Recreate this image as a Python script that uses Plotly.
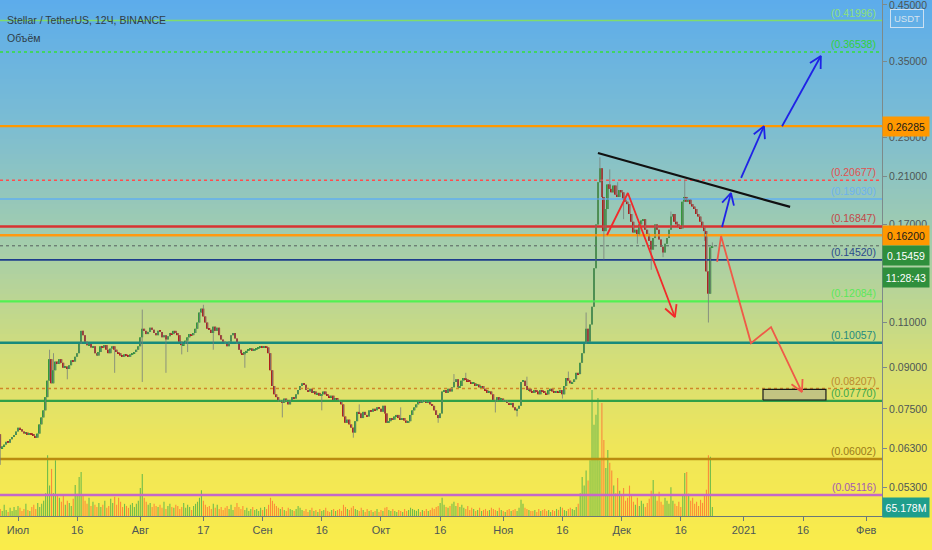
import math
import pandas as pd
import plotly.graph_objects as go

# ---------------- data ----------------
START = "2020-06-26 12:00"          # first 12h candle
FIRST_OPEN = 0.0670

CLOSE = [
    0.0630, 0.0635, 0.0640, 0.0648, 0.0645, 0.0655, 0.0662, 0.0668, 0.0678, 0.0690,
    0.0685, 0.0678, 0.0672, 0.0675, 0.0668, 0.0672, 0.0670, 0.0665, 0.0660, 0.0672,
    0.0700, 0.0722, 0.0745, 0.0790, 0.0850, 0.0935, 0.0840, 0.0890, 0.0925, 0.0915,
    0.0935, 0.0920, 0.0900, 0.0905, 0.0895, 0.0910, 0.0930, 0.0925, 0.0945, 0.0960,
    0.1000, 0.1060, 0.1040, 0.1010, 0.0995, 0.1000, 0.0985, 0.0990, 0.0960, 0.0950,
    0.0965, 0.0990, 0.0985, 0.0995, 0.0975, 0.0960, 0.0980, 0.0990, 0.0975, 0.0965,
    0.0960, 0.0950, 0.0945, 0.0955, 0.0950, 0.0945, 0.0955, 0.0960, 0.0965, 0.0975,
    0.0990, 0.1030, 0.1070, 0.1060, 0.1045, 0.1055, 0.1075, 0.1065, 0.1050, 0.1040,
    0.1060, 0.1055, 0.1030, 0.1040, 0.1020, 0.1035, 0.1050, 0.1045, 0.1060, 0.1050,
    0.1040, 0.1010, 0.0995, 0.1000, 0.1015, 0.1030, 0.1045, 0.1040, 0.1050, 0.1070,
    0.1100, 0.1150, 0.1170, 0.1130, 0.1100, 0.1070, 0.1065, 0.1050, 0.1080, 0.1060,
    0.1075, 0.1040, 0.1020, 0.1010, 0.1000, 0.0990, 0.1010, 0.1040, 0.1050, 0.1025,
    0.1000, 0.0975, 0.0960, 0.0955, 0.0965, 0.0970, 0.0975, 0.0980, 0.0970, 0.0975,
    0.0980, 0.0985, 0.0990, 0.0985, 0.0990, 0.0985, 0.0960, 0.0890, 0.0830, 0.0800,
    0.0790, 0.0775, 0.0780, 0.0770, 0.0785, 0.0775, 0.0765, 0.0780, 0.0790, 0.0785,
    0.0800, 0.0815, 0.0830, 0.0840, 0.0835, 0.0815, 0.0810, 0.0820, 0.0805, 0.0810,
    0.0800, 0.0805, 0.0795, 0.0800, 0.0810, 0.0800, 0.0795, 0.0790, 0.0795, 0.0780,
    0.0785, 0.0780, 0.0775, 0.0765, 0.0725, 0.0705, 0.0715, 0.0700, 0.0690, 0.0675,
    0.0710, 0.0740, 0.0735, 0.0720, 0.0740, 0.0730, 0.0725, 0.0745, 0.0740, 0.0750,
    0.0745, 0.0755, 0.0750, 0.0740, 0.0760, 0.0735, 0.0705, 0.0710, 0.0720, 0.0715,
    0.0725, 0.0730, 0.0720, 0.0715, 0.0720, 0.0712, 0.0705, 0.0710, 0.0730, 0.0745,
    0.0755, 0.0765, 0.0775, 0.0770, 0.0780, 0.0775, 0.0770, 0.0775, 0.0765, 0.0760,
    0.0745, 0.0730, 0.0720, 0.0735, 0.0810, 0.0815, 0.0805, 0.0820, 0.0810, 0.0825,
    0.0845, 0.0855, 0.0825, 0.0830, 0.0850, 0.0860, 0.0855, 0.0848, 0.0845, 0.0838,
    0.0840, 0.0830, 0.0835, 0.0825, 0.0830, 0.0820, 0.0815, 0.0805, 0.0810, 0.0800,
    0.0780, 0.0775, 0.0790, 0.0780, 0.0785, 0.0775, 0.0780, 0.0770, 0.0765, 0.0770,
    0.0755, 0.0745, 0.0750, 0.0760, 0.0845, 0.0850, 0.0830, 0.0815, 0.0820, 0.0810,
    0.0805, 0.0815, 0.0810, 0.0800, 0.0815, 0.0810, 0.0805, 0.0800, 0.0815, 0.0820,
    0.0810, 0.0805, 0.0812, 0.0808, 0.0815, 0.0800, 0.0830, 0.0860, 0.0850, 0.0840,
    0.0845, 0.0855, 0.0880, 0.0875, 0.0920, 0.0960, 0.1000, 0.1070, 0.1010, 0.1090,
    0.1180, 0.1400, 0.1700, 0.2050, 0.2180, 0.1920, 0.1650, 0.1820, 0.2030, 0.1990,
    0.1960, 0.2020, 0.1940, 0.1920, 0.1980, 0.1960, 0.1900, 0.1880, 0.1860, 0.1780,
    0.1720, 0.1640, 0.1660, 0.1620, 0.1700, 0.1730, 0.1740, 0.1660, 0.1630, 0.1580,
    0.1520, 0.1600, 0.1700, 0.1660, 0.1590, 0.1540, 0.1500, 0.1560, 0.1600, 0.1660,
    0.1760, 0.1780, 0.1720, 0.1700, 0.1680, 0.1670, 0.1880, 0.1920, 0.1880, 0.1900,
    0.1860, 0.1840, 0.1820, 0.1780, 0.1760, 0.1720, 0.1680, 0.1650, 0.1380, 0.1250,
    0.1535, 0.15459,
]

# (candle index, wick price)
HIGH_WICKS = [(25, 0.0975), (27, 0.0960), (72, 0.1165), (103, 0.1190), (182, 0.0765),
              (203, 0.0755), (230, 0.0875), (236, 0.0880), (267, 0.0865), (288, 0.0885),
              (297, 0.1150), (304, 0.2290), (309, 0.2170), (313, 0.2050), (340, 0.1800),
              (347, 0.2070), (361, 0.1570)]
LOW_WICKS = [(0, 0.0585), (34, 0.0855), (58, 0.0880), (72, 0.0845), (84, 0.0880),
             (92, 0.0955), (95, 0.0965), (108, 0.0975), (124, 0.0900), (143, 0.0722),
             (163, 0.0745), (179, 0.0660), (222, 0.0705), (251, 0.0738), (262, 0.0725),
             (285, 0.0785), (306, 0.1455), (316, 0.1740), (323, 0.1560), (330, 0.1390),
             (336, 0.1470), (357, 0.1580), (359, 0.1100)]

VOLUME_M = [
    51, 37, 81, 44, 29, 59, 37, 66, 44, 73,
    59, 37, 51, 88, 44, 37, 66, 81, 51, 95,
    66, 88, 110, 165, 440, 220, 341, 165, 403, 147,
    132, 103, 147, 81, 110, 95, 73, 125, 224, 161,
    282, 319, 147, 110, 88, 132, 73, 103, 81, 66,
    95, 66, 81, 110, 59, 73, 125, 95, 139, 81,
    132, 103, 66, 88, 73, 59, 81, 95, 66, 88,
    110, 202, 304, 132, 103, 81, 95, 66, 88, 73,
    66, 81, 59, 103, 51, 73, 88, 66, 59, 81,
    73, 51, 66, 95, 59, 81, 66, 44, 73, 88,
    103, 132, 187, 110, 81, 66, 73, 51, 88, 59,
    81, 51, 66, 44, 59, 73, 51, 81, 44, 66,
    95, 66, 51, 73, 44, 59, 37, 51, 66, 44,
    51, 37, 59, 44, 66, 51, 81, 132, 110, 88,
    73, 59, 51, 66, 44, 37, 59, 51, 44, 37,
    51, 73, 59, 44, 37, 51, 29, 44, 59, 37,
    44, 29, 51, 37, 44, 59, 37, 29, 44, 51,
    37, 44, 51, 37, 81, 66, 51, 44, 59, 73,
    51, 44, 37, 59, 44, 29, 51, 37, 44, 29,
    37, 51, 29, 44, 37, 59, 66, 44, 37, 51,
    37, 29, 44, 37, 29, 51, 37, 44, 59, 51,
    44, 37, 51, 29, 44, 37, 51, 37, 44, 59,
    51, 66, 73, 95, 132, 81, 66, 59, 73, 88,
    103, 73, 95, 66, 81, 59, 51, 73, 44, 59,
    51, 37, 44, 59, 37, 44, 51, 37, 44, 59,
    51, 44, 37, 59, 44, 37, 29, 44, 51, 37,
    44, 51, 37, 59, 117, 88, 59, 51, 44, 37,
    37, 44, 29, 51, 37, 44, 51, 37, 44, 29,
    44, 37, 51, 44, 66, 59, 44, 37, 51, 59,
    51, 44, 66, 88, 165, 282, 220, 330, 257, 403,
    913, 660, 733, 854, 403, 818, 550, 348, 477, 385,
    330, 220, 165, 275, 183, 147, 202, 110, 132, 220,
    147, 103, 81, 132, 73, 110, 88, 66, 95, 125,
    183, 260, 147, 110, 176, 103, 81, 132, 110, 88,
    209, 110, 88, 73, 103, 66, 147, 312, 319, 161,
    110, 132, 88, 103, 73, 117, 95, 147, 190, 440,
    429, 65.178,
]

LEVELS = [0.41996, 0.36538, 0.26285, 0.20677, 0.19030, 0.16847, 0.16200, 0.15459,
          0.14520, 0.12084, 0.10057, 0.08207, 0.07770, 0.06002, 0.05116]
LEVEL_LABELS = ["(0.41996)", "(0.36538)", None, "(0.20677)", "(0.19030)", "(0.16847)", None, None,
                "(0.14520)", "(0.12084)", "(0.10057)", "(0.08207)", "(0.07770)", "(0.06002)", "(0.05116)"]

Y_TICKS = [0.45, 0.35, 0.25, 0.21, 0.17, 0.11, 0.09, 0.075, 0.063, 0.053]

X_TICKS = ["2020-07-01", "2020-07-16", "2020-08-01", "2020-08-17", "2020-09-01", "2020-09-16",
           "2020-10-01", "2020-10-16", "2020-11-01", "2020-11-16", "2020-12-01", "2020-12-16",
           "2021-01-01", "2021-01-16", "2021-02-01"]
X_TICK_TEXT = ["Июл", "16", "Авг", "17", "Сен", "16", "Окт", "16", "Ноя", "16", "Дек", "16",
               "2021", "16", "Фев"]

# drawings (time, price)
TREND_T = ["2020-11-25 00:00", "2021-01-12 17:00"]
TREND_P = [0.2333, 0.1837]
BLUE1_T = ["2020-12-26 11:00", "2020-12-28 17:00"]
BLUE1_P = [0.1680, 0.1954]
BLUE2_T = ["2020-12-31 07:00", "2021-01-06 02:00"]
BLUE2_P = [0.2089, 0.2628]
BLUE3_T = ["2021-01-10 16:00", "2021-01-20 12:00"]
BLUE3_P = [0.2628, 0.3588]
REDA_T = ["2020-11-27 07:00", "2020-12-02 14:00", "2020-12-14 12:00"]
REDA_P = [0.1622, 0.1954, 0.1127]
REDB_T = ["2020-12-25 05:00", "2020-12-26 05:00", "2021-01-02 19:00", "2021-01-07 21:00", "2021-01-15 17:00"]
REDB_P = [0.1439, 0.1614, 0.1004, 0.1078, 0.0808]
RECT_T = ["2021-01-05 20:00", "2021-01-21 19:00"]
RECT_P = [0.0780, 0.0818]

CURRENT_VOLUME_TEXT = "65.178M"
COUNTDOWN = "11:28:43"

# ---------------- layout constants ----------------
X_RANGE = ["2020-06-26 10:30", "2021-02-05 00:00"]
Y_LOG_RANGE = [-1.3314, -0.3372]
VOL_RANGE = [0, 3736]
W, H = 932, 550
ML, MR, MT, MB = 0, 50, 0, 34
PW, PH = W - ML - MR, H - MT - MB
FONT = "Liberation Sans, Arial, sans-serif"
HALF_DAY_MS = 12 * 3600 * 1000

LEVEL_STYLES = [
    ("#80dc6c", 1.5, "solid"), ("#35e03a", 1.5, "dot"), ("#ff9800", 2.2, "solid"),
    ("#ff4d4d", 1.5, "dot"), ("#62aff0", 1.6, "solid"), ("#d83232", 2.4, "solid"),
    ("#ff9a10", 2.4, "solid"), ("#55605e", 1.0, "dot"), ("#1c3c8c", 1.8, "solid"),
    ("#52f052", 2.4, "solid"), ("#178a7c", 2.4, "solid"), ("#d0862a", 1.5, "dot"),
    ("#2f9f48", 2.4, "solid"), ("#b98b10", 2.6, "solid"), ("#c468c8", 2.4, "solid"),
]
LABEL_COLORS = ["#8ee07a", "#2fd13a", None, "#e05050", "#6eb2ee", "#c24848", None, None,
                "#2a4a8c", "#5ae85a", "#1f8a7e", "#bb8a2e", "#3aa84a", "#9a7a1a", "#a45ab4"]

# ---------------- derived series ----------------
times = pd.date_range(START, periods=len(CLOSE), freq="12h")
opens = [FIRST_OPEN] + CLOSE[:-1]
highs = [max(o, c) for o, c in zip(opens, CLOSE)]
lows = [min(o, c) for o, c in zip(opens, CLOSE)]
for i, v in HIGH_WICKS:
    highs[i] = v
for i, v in LOW_WICKS:
    lows[i] = v
rising = [c >= o for o, c in zip(opens, CLOSE)]

t0 = pd.Timestamp(X_RANGE[0]).value / 1e6
t1 = pd.Timestamp(X_RANGE[1]).value / 1e6


def to_px(t, p):
    tm = pd.Timestamp(t).value / 1e6
    return ((tm - t0) / (t1 - t0) * PW,
            (Y_LOG_RANGE[1] - math.log10(p)) / (Y_LOG_RANGE[1] - Y_LOG_RANGE[0]) * PH)


def from_px(px, py):
    tm = t0 + px / PW * (t1 - t0)
    p = 10 ** (Y_LOG_RANGE[1] - py / PH * (Y_LOG_RANGE[1] - Y_LOG_RANGE[0]))
    return pd.Timestamp(tm, unit="ms"), p


def arrow_head(ts, ps, length=13, ang=28):
    x1, y1 = to_px(ts[-2], ps[-2])
    x2, y2 = to_px(ts[-1], ps[-1])
    a = math.atan2(y1 - y2, x1 - x2)
    pts = []
    for s in (-1, 1):
        b = a + s * math.radians(ang)
        pts.append(from_px(x2 + length * math.cos(b), y2 + length * math.sin(b)))
    return ([pts[0][0], pd.Timestamp(ts[-1]), pts[1][0]], [pts[0][1], ps[-1], pts[1][1]])


fig = go.Figure()

# volume (primary hidden axis, drawn beneath price)
vol_colors = ["rgba(60,170,70,0.72)" if r else "rgba(255,95,45,0.68)" for r in rising]
fig.add_trace(go.Bar(x=times, y=VOLUME_M, marker=dict(color=vol_colors, line=dict(width=0)),
                     width=HALF_DAY_MS * 0.55, yaxis="y", hoverinfo="skip"))

# level lines
for lv, (col, wd, dash) in zip(LEVELS, LEVEL_STYLES):
    fig.add_trace(go.Scatter(x=X_RANGE, y=[lv, lv], mode="lines", yaxis="y2",
                             line=dict(color=col, width=wd, dash=dash), hoverinfo="skip"))

# wicks
wx, wy = [], []
for t, lo, hi in zip(times, lows, highs):
    wx += [t, t, None]
    wy += [lo, hi, None]
fig.add_trace(go.Scatter(x=wx, y=wy, mode="lines", yaxis="y2",
                         line=dict(color="rgba(120,128,122,0.8)", width=1), hoverinfo="skip"))

# candle bodies as floating bars
body_base = [min(o, c) for o, c in zip(opens, CLOSE)]
body_len = [max(abs(c - o), min(o, c) * 0.005) for o, c in zip(opens, CLOSE)]
body_col = ["#33993a" if r else "#b01f1b" for r in rising]
fig.add_trace(go.Bar(x=times, y=body_len, base=body_base, yaxis="y2",
                     width=HALF_DAY_MS * 0.9,
                     marker=dict(color=body_col, line=dict(width=0)),
                     hoverinfo="skip"))

# target rectangle
fig.add_trace(go.Scatter(x=[RECT_T[0], RECT_T[1], RECT_T[1], RECT_T[0], RECT_T[0]],
                         y=[RECT_P[0], RECT_P[0], RECT_P[1], RECT_P[1], RECT_P[0]],
                         mode="lines", fill="toself", fillcolor="rgba(150,150,165,0.38)",
                         line=dict(color="#1a1a1a", width=1.2), yaxis="y2", hoverinfo="skip"))

# trend line
fig.add_trace(go.Scatter(x=TREND_T, y=TREND_P, mode="lines", yaxis="y2",
                         line=dict(color="#111111", width=2.2), hoverinfo="skip"))

# arrows
for ts, ps, col in [(BLUE1_T, BLUE1_P, "#1f22e6"), (BLUE2_T, BLUE2_P, "#1f22e6"),
                    (BLUE3_T, BLUE3_P, "#1f22e6"), (REDA_T, REDA_P, "#f22a2a"),
                    (REDB_T, REDB_P, "#ef5a48")]:
    fig.add_trace(go.Scatter(x=ts, y=ps, mode="lines", yaxis="y2",
                             line=dict(color=col, width=1.8), hoverinfo="skip"))
    hx, hy = arrow_head(ts, ps)
    fig.add_trace(go.Scatter(x=hx, y=hy, mode="lines", yaxis="y2",
                             line=dict(color=col, width=1.8), hoverinfo="skip"))

# ---------------- background gradient ----------------
stops = [(0, (92, 172, 235)), (120, (122, 188, 212)), (250, (166, 206, 170)),
         (360, (212, 222, 120)), (450, (240, 230, 88)), (550, (250, 236, 74))]


def grad(py):
    for (a, ca), (b, cb) in zip(stops[:-1], stops[1:]):
        if a <= py <= b:
            f = (py - a) / (b - a)
            return "rgb(%d,%d,%d)" % tuple(round(ca[k] + f * (cb[k] - ca[k])) for k in range(3))
    return "rgb(250,236,74)"


shapes = []
step = 5
for k in range(0, H, step):
    shapes.append(dict(type="rect", xref="paper", yref="paper", layer="below",
                       x0=-0.01, x1=(W + 10) / PW, y0=1 - (k + step + 0.5) / PH, y1=1 - k / PH + 0.002,
                       fillcolor=grad(k + step / 2), line=dict(width=0)))

# ---------------- annotations ----------------
ann = []
for lv, lab, col in zip(LEVELS, LEVEL_LABELS, LABEL_COLORS):
    if lab:
        ann.append(dict(xref="paper", yref="y2", x=(PW - 4) / PW, y=math.log10(lv), text=lab,
                        xanchor="right", yanchor="bottom", yshift=0, showarrow=False,
                        font=dict(family=FONT, size=10.5, color=col)))


def axis_box(yval, text, bg, fg, yref="y2", shift=0):
    return dict(xref="paper", yref=yref, x=1.0, y=yval, text=text, xanchor="left", yanchor="middle",
                yshift=shift, showarrow=False, bgcolor=bg, width=42, height=15, borderpad=2,
                align="center", font=dict(family=FONT, size=10.5, color=fg))


ann.append(axis_box(math.log10(LEVELS[2]), "0.26285", "#ff9800", "#1a1a1a"))
ann.append(axis_box(math.log10(LEVELS[6]), "0.16200", "#ff9800", "#1a1a1a"))
ann.append(axis_box(math.log10(LEVELS[7]), "0.15459", "#2f8f3c", "#ffffff", shift=-10))
ann.append(axis_box(math.log10(LEVELS[7]), COUNTDOWN, "#2f8f3c", "#ffffff", shift=-32))
ann.append(axis_box(VOLUME_M[-1], CURRENT_VOLUME_TEXT, "#1f9e8c", "#ffffff", yref="y"))
ann.append(dict(xref="paper", yref="paper", x=907 / PW, y=1 - 19 / PH, text="USDT", showarrow=False,
                xanchor="center", yanchor="middle", bordercolor="rgba(215,230,242,0.9)", borderwidth=1,
                borderpad=3, font=dict(family=FONT, size=9.5, color="#d6e3ee")))
ann.append(dict(xref="paper", yref="paper", x=5 / PW, y=1 - 20 / PH, text="Stellar / TetherUS, 12Ч, BINANCE",
                showarrow=False, xanchor="left", yanchor="middle",
                font=dict(family=FONT, size=10.5, color="#2f3d48")))
ann.append(dict(xref="paper", yref="paper", x=5 / PW, y=1 - 38 / PH, text="Объём",
                showarrow=False, xanchor="left", yanchor="middle",
                font=dict(family=FONT, size=10.5, color="#2f3d48")))

fig.update_layout(
    width=W, height=H, margin=dict(l=ML, r=MR, t=MT, b=MB),
    paper_bgcolor="rgb(250,236,74)", plot_bgcolor="rgba(0,0,0,0)",
    showlegend=False, shapes=shapes, annotations=ann, barmode="overlay",
    xaxis=dict(type="date", range=X_RANGE, tickvals=X_TICKS, ticktext=X_TICK_TEXT,
               showgrid=False, zeroline=False, showline=True, linecolor="#6b7878", linewidth=1,
               ticks="outside", ticklen=4, tickcolor="#6b7878",
               tickfont=dict(family=FONT, size=11, color="#4d5656"), rangeslider=dict(visible=False),
               fixedrange=True),
    yaxis=dict(range=VOL_RANGE, visible=False, fixedrange=True),
    yaxis2=dict(type="log", range=Y_LOG_RANGE, overlaying="y", side="right", anchor="x",
                tickvals=Y_TICKS, ticktext=["%.5f" % v for v in Y_TICKS], ticklabeloverflow="allow",
                showgrid=False, zeroline=False, showline=True, linecolor="#7d8a8a", linewidth=1,
                ticks="outside", ticklen=4, tickcolor="#7d8a8a",
                tickfont=dict(family=FONT, size=10.5, color="#4d5656"), fixedrange=True),
)

fig.write_html("out.html", config={"displayModeBar": False},
               post_script="document.body.style.margin='0';")
